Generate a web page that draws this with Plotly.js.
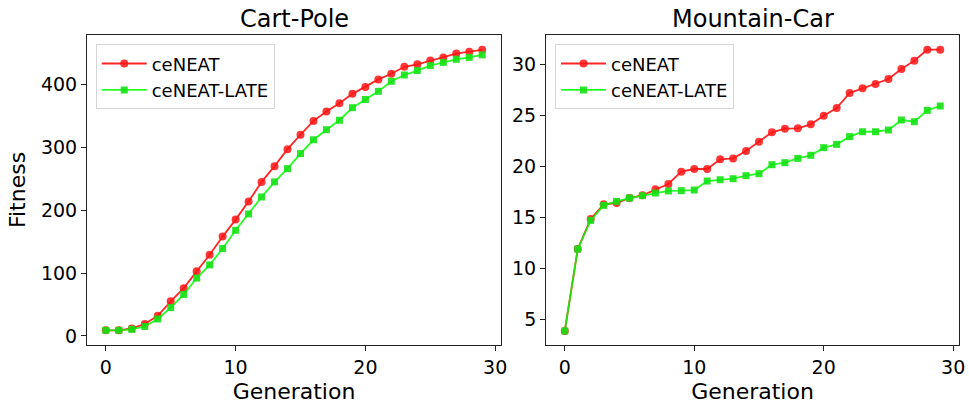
<!DOCTYPE html>
<html>
<head>
<meta charset="utf-8">
<script src="https://cdn.plot.ly/plotly-3.0.1.min.js"></script>
<style>html,body{margin:0;padding:0;background:#fff;}#chart{width:969px;height:404px;}</style>
</head>
<body>
<div id="chart"></div>
<script>
var generations = [0,1,2,3,4,5,6,7,8,9,10,11,12,13,14,15,16,17,18,19,20,21,22,23,24,25,26,27,28,29];
var cartPoleCeNEAT = [9,9,12,19,32,55,76,103,129,158,185,214,245,270,297,320,342,357,370,385,396,408,417,428,432,438,443,449,452,455];
var cartPoleLate = [9,9,10.5,15,27,45,66,92,113,139,168,194,221,245,266,290,312,328,343,363,376,389,405,415,422,430,435,440,443,447];
var mountainCeNEAT = [3.86,11.89,14.82,16.26,16.39,16.88,17.14,17.73,18.25,19.46,19.72,19.72,20.67,20.76,21.48,22.40,23.31,23.67,23.70,24.09,24.94,25.69,27.16,27.62,28.04,28.53,29.51,30.33,31.40,31.40];
var mountainLate = [3.86,11.89,14.69,16.16,16.55,16.88,17.11,17.37,17.57,17.60,17.66,18.54,18.67,18.77,19.07,19.26,20.14,20.34,20.76,21.06,21.81,22.13,22.89,23.37,23.37,23.54,24.52,24.35,25.46,25.89];
var seriesNames = ['ceNEAT', 'ceNEAT-LATE'];
var xTicks = [0,10,20,30];
var subplotTitles = ['Cart-Pole', 'Mountain-Car'];

var FONT = 'DejaVu Sans, Liberation Sans, sans-serif';
var RED_LINE = 'rgba(255,0,0,0.85)';
var RED_MARK = 'rgba(255,20,20,0.85)';
var GREEN_LINE = 'rgba(0,255,0,0.85)';
var GREEN_MARK = 'rgba(20,225,20,0.9)';

function redTrace(y, xa, ya, lg) {
  return {x: generations, y: y, xaxis: xa, yaxis: ya, legend: lg, name: seriesNames[0],
    mode: 'lines+markers', line: {color: RED_LINE, width: 1.8},
    marker: {symbol: 'circle', size: 8, color: RED_MARK}};
}
function greenTrace(y, xa, ya, lg) {
  return {x: generations, y: y, xaxis: xa, yaxis: ya, legend: lg, name: seriesNames[1],
    mode: 'lines+markers', line: {color: GREEN_LINE, width: 1.8},
    marker: {symbol: 'square', size: 7, color: GREEN_MARK}};
}

var data = [
  redTrace(cartPoleCeNEAT, 'x', 'y', 'legend'),
  greenTrace(cartPoleLate, 'x', 'y', 'legend'),
  redTrace(mountainCeNEAT, 'x2', 'y2', 'legend2'),
  greenTrace(mountainLate, 'x2', 'y2', 'legend2')
];

function xAxis(domain, anchor) {
  return {domain: domain, anchor: anchor, range: [-1.45, 30.45], tickvals: xTicks,
    showgrid: false, zeroline: false, showline: true, mirror: true, linecolor: '#222', linewidth: 1,
    ticks: 'outside', ticklen: 5, tickwidth: 1, tickcolor: '#222',
    tickfont: {family: FONT, size: 19, color: '#000'},
    title: {text: 'Generation', font: {family: FONT, size: 22, color: '#000'}, standoff: 7}};
}
function yAxis(range, dtick, anchor, title) {
  var a = {range: range, dtick: dtick, anchor: anchor, domain: [0, 1],
    showgrid: false, zeroline: false, showline: true, mirror: true, linecolor: '#222', linewidth: 1,
    ticks: 'outside', ticklen: 5, tickwidth: 1, tickcolor: '#222',
    tickfont: {family: FONT, size: 19, color: '#000'}};
  if (title) a.title = {text: title, font: {family: FONT, size: 22, color: '#000'}, standoff: 9};
  return a;
}

var legendBase = {bgcolor: 'rgba(255,255,255,0.8)', bordercolor: '#d6d6d6', borderwidth: 1,
  font: {family: FONT, size: 18, color: '#000'}, xanchor: 'left', yanchor: 'top', tracegroupgap: 0,
  itemwidth: 45};

var layout = {
  width: 969, height: 404,
  margin: {l: 87, r: 10, t: 35, b: 59},
  paper_bgcolor: '#fff', plot_bgcolor: '#fff',
  showlegend: true,
  xaxis: xAxis([0, 0.4748], 'y'),
  yaxis: yAxis([-14.4, 478.6], 100, 'x', 'Fitness'),
  xaxis2: xAxis([0.5264, 1], 'y2'),
  yaxis2: yAxis([2.49, 32.84], 5, 'x2', null),
  legend: Object.assign({}, legendBase, {x: 0.010, y: 0.97}),
  legend2: Object.assign({}, legendBase, {x: 0.5367, y: 0.97}),
  annotations: [
    {text: subplotTitles[0], xref: 'paper', yref: 'paper', x: 0.2374, y: 1.052, xanchor: 'center', yanchor: 'middle', showarrow: false, font: {family: FONT, size: 24, color: '#000'}},
    {text: subplotTitles[1], xref: 'paper', yref: 'paper', x: 0.7632, y: 1.052, xanchor: 'center', yanchor: 'middle', showarrow: false, font: {family: FONT, size: 24, color: '#000'}}
  ]
};

Plotly.newPlot('chart', data, layout, {displayModeBar: false, staticPlot: true});
</script>
</body>
</html>
